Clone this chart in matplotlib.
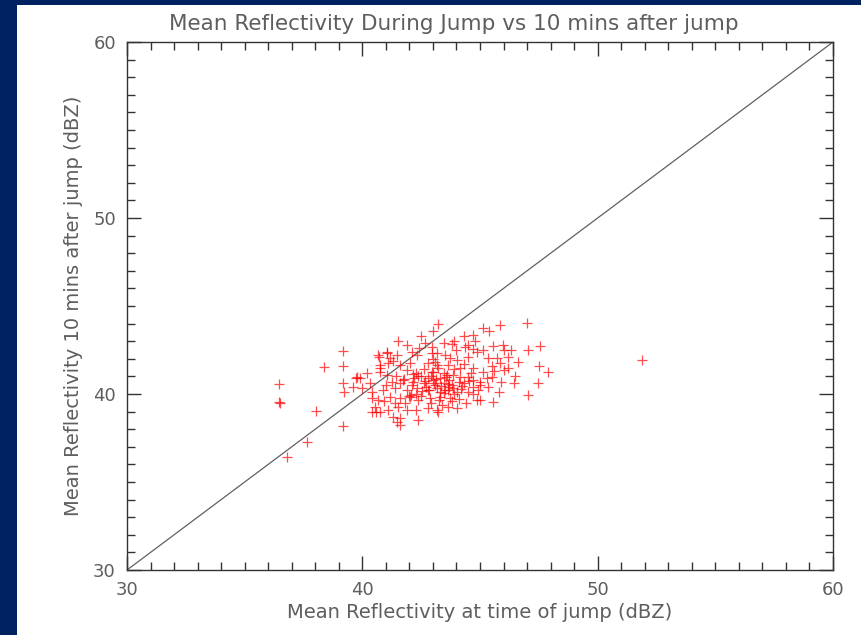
import matplotlib
matplotlib.use("Agg")
import matplotlib.pyplot as plt
from matplotlib.patches import Rectangle
from matplotlib.ticker import MultipleLocator

# reflectivity at time of jump (dBZ)
refl_jump = [
    36.47, 36.47, 36.50, 36.81, 37.66, 38.02, 38.38, 39.19, 39.19, 39.19,
    39.21, 39.19, 51.87,
    43.23, 45.87, 46.98, 45.11, 44.72, 44.30, 41.53, 42.68, 43.45, 43.79,
    47.57, 42.98, 44.38, 44.72, 45.57, 45.96, 46.00, 47.06, 41.06, 40.68,
    41.49, 42.13, 42.34, 42.98, 43.19, 43.74, 44.04, 44.47, 44.89, 45.11,
    45.32, 45.74, 46.21, 46.60, 45.87, 45.53, 40.77, 41.11, 41.62, 42.04,
    42.77, 43.19, 43.62, 44.17, 44.72, 45.11, 45.53, 46.00, 47.49, 47.91,
    40.77, 40.21, 41.06, 41.91, 42.26, 43.02, 43.45, 43.87, 44.47, 44.72,
    45.02, 39.79, 40.34, 41.28, 41.74, 42.17, 42.60, 43.02, 43.45, 43.83,
    44.30, 44.72, 45.02, 45.36, 46.43, 47.45, 39.62, 40.00, 40.43, 40.89,
    41.40, 41.91, 42.34, 42.77, 43.19, 43.62, 44.04, 44.47, 45.79, 47.02,
    40.43, 40.68, 41.19, 41.62, 42.04, 42.38, 42.89, 43.32, 43.74, 44.09,
    44.89, 45.57, 40.55, 41.11, 41.53, 41.91, 42.26, 42.77, 43.19, 43.62,
    44.04, 40.43, 40.77, 41.32, 41.62, 41.49, 42.38, 43.23, 41.62, 45.02,
    39.74, 39.91, 40.72, 41.06, 41.19, 40.77,
    42.50, 42.90, 43.30, 43.70, 44.10, 42.20, 42.70, 43.10, 43.50, 43.90,
    43.30, 42.50, 42.90, 43.40, 43.80, 42.60, 43.20, 43.90, 44.30, 44.60,
    43.00, 43.50, 42.40, 44.00, 44.50, 41.90, 42.10, 41.60, 41.00, 40.90,
    41.40, 41.80, 44.40, 44.70, 45.30, 45.60, 46.20, 46.50, 45.90, 46.30,
    44.80, 43.90, 42.50, 43.00, 45.40, 42.30, 42.80, 43.60, 44.20, 41.30,
    43.10, 43.70, 42.00, 44.90, 40.60,
    42.65, 43.05, 43.35, 43.55, 42.35, 42.85, 43.15, 43.65, 44.25, 41.75,
    42.15, 42.55, 43.25, 43.85, 44.55, 41.45, 42.95, 43.45, 44.15, 42.05,
]

# reflectivity 10 minutes after the jump (dBZ)
refl_after = [
    40.57, 39.55, 39.50, 36.42, 37.25, 39.03, 41.53, 42.44, 41.59, 40.63,
    40.11, 38.21, 41.93,
    43.98, 43.92, 44.03, 43.75, 43.35, 43.30, 43.01, 42.90, 42.90, 42.84,
    42.73, 42.67, 42.67, 42.56, 42.73, 42.78, 42.50, 42.50, 42.33, 42.22,
    42.22, 42.39, 42.22, 42.33, 42.33, 42.05, 41.93, 42.10, 42.39, 42.50,
    42.05, 42.05, 42.10, 41.82, 41.76, 41.59, 41.65, 41.76, 41.65, 41.76,
    41.76, 41.65, 41.65, 41.48, 41.48, 41.25, 40.97, 41.36, 41.59, 41.25,
    41.25, 41.19, 41.08, 41.36, 41.19, 41.25, 41.19, 41.08, 40.97, 40.80,
    40.68, 40.97, 40.63, 40.68, 40.80, 40.68, 40.63, 40.80, 40.63, 40.51,
    40.63, 40.40, 40.51, 40.40, 40.63, 40.63, 40.40, 40.34, 40.11, 40.23,
    40.34, 40.23, 40.34, 40.23, 40.34, 40.23, 40.11, 40.11, 40.11, 39.94,
    39.77, 39.66, 39.83, 39.77, 39.83, 39.66, 39.77, 39.83, 39.77, 39.72,
    39.66, 39.55, 39.26, 39.09, 39.26, 39.09, 39.09, 39.20, 39.09, 39.26,
    39.20, 38.98, 38.98, 38.69, 38.64, 38.41, 38.52, 38.98, 38.24, 39.66,
    40.91, 40.91, 42.10, 42.39, 42.05, 41.48,
    41.00, 41.00, 40.90, 40.80, 40.70, 40.90, 40.40, 40.50, 40.20, 40.00,
    40.10, 39.90, 39.50, 39.40, 39.60, 41.40, 41.50, 41.40, 41.70, 41.20,
    42.00, 42.20, 42.60, 42.50, 42.80, 42.80, 40.50, 40.60, 40.50, 39.60,
    39.50, 39.50, 39.50, 40.00, 40.90, 41.30, 41.50, 41.00, 40.70, 42.50,
    43.00, 43.00, 43.30, 43.60, 43.60, 40.00, 40.90, 41.10, 40.30, 41.90,
    41.80, 40.40, 39.90, 40.20, 39.00,
    40.75, 40.65, 40.45, 40.95, 41.05, 40.25, 40.85, 40.55, 40.45, 40.85,
    41.15, 40.15, 39.65, 40.35, 40.75, 41.05, 41.25, 40.05, 40.95, 39.95,
]

title = "Mean Reflectivity During Jump vs 10 mins after jump"
xlabel = "Mean Reflectivity at time of jump (dBZ)"
ylabel = "Mean Reflectivity 10 mins after jump (dBZ)"
axis_range = [30, 60]

txt = "#5e5e5e"

fig = plt.figure(figsize=(8.61, 6.35), dpi=100, facecolor="#00215f")
# white panel inside the navy frame
fig.add_artist(Rectangle((17 / 861, 0), 1 - 17 / 861, 630 / 635,
                         transform=fig.transFigure, facecolor="white",
                         edgecolor="none", zorder=-5))

ax = fig.add_axes([127 / 861, 65 / 635, 706 / 861, 528 / 635])
ax.set_zorder(2)
ax.set_xlim(axis_range)
ax.set_ylim(axis_range)

# one-to-one line
ax.plot(axis_range, axis_range, color="#606060", linewidth=0.9)

ax.plot(refl_jump, refl_after, linestyle="none", marker="+", color="red",
        markersize=6.5, markeredgewidth=0.9, alpha=0.7)

ax.xaxis.set_major_locator(MultipleLocator(10))
ax.yaxis.set_major_locator(MultipleLocator(10))
ax.xaxis.set_minor_locator(MultipleLocator(1))
ax.yaxis.set_minor_locator(MultipleLocator(1))
ax.tick_params(which="both", direction="in", top=True, right=True,
               color="#333333", width=1)
ax.tick_params(which="major", length=10, labelsize=13, labelcolor=txt, pad=8)
ax.tick_params(which="minor", length=5.5)
for s in ax.spines.values():
    s.set_color("#333333")
    s.set_linewidth(1)

ax.set_title(title, fontsize=15.5, color=txt, pad=9, x=0.463)
ax.set_xlabel(xlabel, fontsize=14, color=txt, labelpad=3)
ax.set_ylabel(ylabel, fontsize=14, color=txt, labelpad=7)

fig.savefig("out.png", dpi=100, facecolor=fig.get_facecolor())
